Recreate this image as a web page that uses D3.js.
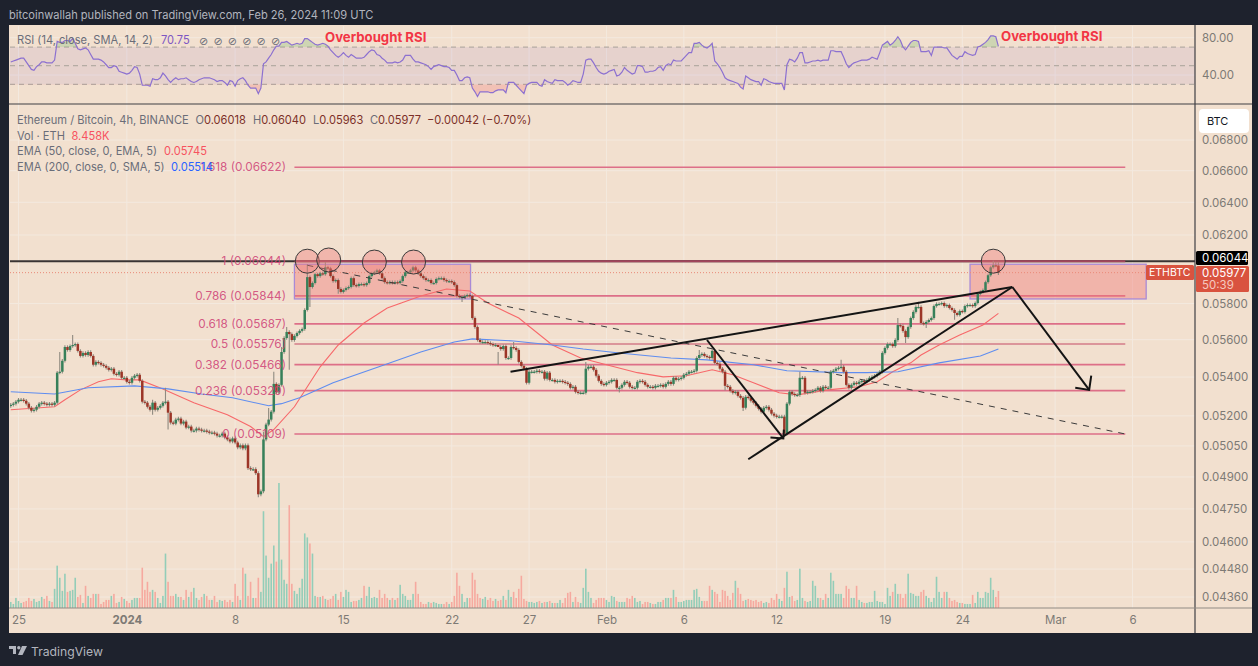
<!DOCTYPE html>
<html>
<head>
<meta charset="utf-8">
<script src="https://cdn.jsdelivr.net/npm/d3@7/dist/d3.min.js"></script>
<style>
  html, body { margin: 0; padding: 0; background: #1e222d; }
  svg { display: block; font-family: Inter, "Noto Sans", sans-serif; }
</style>
</head>
<body>
<svg id="chart" width="1258" height="666"></svg>
<script>
// closing prices, 4h bars, in 1e-5 BTC
const closes = [
  5256,5262,5272,5282,5282,5277,5262,5241,5226,5231,5246,5262,5267,5262,5256,5262,5256,5267,5423,5428,
  5486,5560,5544,5565,5571,5576,5539,5512,5528,5517,5533,5512,5465,5480,5475,5465,5459,5449,5438,5444,
  5417,5412,5428,5396,5396,5375,5370,5396,5407,5412,5380,5272,5267,5246,5231,5267,5231,5241,5251,5267,
  5272,5216,5166,5161,5181,5186,5161,5171,5141,5146,5126,5126,5136,5131,5126,5126,5121,5116,5116,5111,
  5101,5101,5111,5092,5082,5072,5087,5067,5043,5053,5038,5053,4942,4937,4937,4918,4818,4832,5082,5156,
  5181,5221,5364,5320,5359,5533,5609,5642,5630,5598,5620,5636,5648,5658,5764,5951,5894,5917,5968,5957,
  5973,5968,6008,6002,5957,5928,5934,5883,5866,5877,5888,5894,5945,5905,5900,5911,5911,5905,5917,5957,
  5973,5979,5990,5973,5945,5922,5917,5922,5917,5922,5917,5928,5957,5979,5979,5990,6008,5990,5973,5957,
  5945,5934,5934,5917,5917,5940,5945,5945,5934,5928,5928,5922,5905,5843,5837,5837,5843,5848,5843,5719,
  5669,5598,5587,5587,5587,5582,5576,5571,5571,5560,5549,5565,5501,5501,5560,5555,5544,5480,5459,5444,
  5370,5428,5428,5428,5433,5428,5428,5391,5423,5385,5385,5375,5380,5380,5375,5370,5364,5344,5349,5323,
  5318,5318,5318,5444,5454,5454,5438,5407,5380,5364,5359,5370,5375,5385,5385,5344,5344,5359,5375,5370,
  5349,5344,5344,5375,5380,5375,5359,5349,5349,5344,5354,5354,5359,5349,5364,5375,5364,5396,5385,5391,
  5396,5412,5417,5428,5428,5433,5501,5517,5523,5512,5507,5501,5539,5475,5470,5444,5428,5354,5349,5328,
  5318,5323,5302,5292,5241,5297,5292,5277,5267,5251,5236,5221,5241,5246,5231,5211,5201,5196,5196,5196,
  5111,5262,5323,5312,5307,5307,5396,5396,5318,5323,5323,5328,5333,5344,5328,5349,5344,5344,5428,5433,
  5444,5449,5454,5428,5359,5344,5359,5370,5364,5375,5380,5375,5385,5396,5401,5407,5417,5428,5528,5555,
  5576,5576,5565,5598,5680,5675,5647,5614,5669,5719,5753,5781,5781,5691,5686,5697,5708,5719,5786,5798,
  5798,5803,5786,5792,5775,5764,5747,5736,5758,5753,5786,5792,5792,5786,5803,5854,5866,5877,5922,5962,
  6008,6020,6018,5977
];

// only the wicks that stand out: [bar, high, low], same units
const bigWicks = [
  [19,5533,null],[24,5625,null],[55,5282,5206],[60,5344,null],[61,null,5131],[96,null,4804],[98,5120,null],
  [100,5240,null],[102,5428,null],[105,5560,null],[107,5669,null],[108,null,5438],[115,6026,null],[116,null,5781],
  [122,6039,null],[127,null,5855],[175,null,5809],[189,5533,5465],[195,5587,null],[223,5480,null],[236,null,5320],
  [267,5544,null],[277,null,5330],[284,null,5225],[306,5428,null],[322,5491,null],[344,5719,null],[347,null,5582],
  [352,5810,null],[355,null,5664],[366,null,5710],[381,6047,null],[382,6040,null],[383,6040,5963]
];

// volume in thousands of ETH
const volumes = [
  3,2,5,3.5,2.5,3,3.5,5,3.5,4.5,3,3.5,5.5,4.5,6,3.5,3,9.5,21,15,
  8.5,17,8,8.5,9,15,5.5,6.5,2.5,11,6,5,7,7,7,2,3,4,4,6,
  7,2.5,3,5.5,4.5,3.5,2.5,4,5,5,5,20,9,13,8,9,8,5,2.5,6,
  27,13,6,6,7,5.5,5.5,4,9,5.5,8,10,5,4,5.5,7,6,4,4,6,
  3,4,3.5,4,3,4,3,12,6,4,20,17,6,13,5,5,15,8,48,26,
  15,22,31,23,62,24,14,12,51,12,8.5,7,10,14.5,37,35,32,27,6,5.5,
  5.5,6,4.5,4,4.5,6,7,4,8,5.5,9,8,3,3.5,3.5,4,5,11,6,10.5,
  5,5.5,5,9,5,7,5,4,5,4,5,11.5,7,6,4,4,7,13,7,3,
  2,2,3,2.5,3,2.5,2,2,2,3,2,3,6,17.5,11,7,3,5,5,17.5,
  14,7,5,4.5,5.5,4,5,3.5,4.5,3.5,4,6,4,9,5.5,8,5,9.5,16,4.5,
  3.5,3,3,2.5,3,3.5,2.5,3,3,3.5,2.5,2.5,2.5,4,2.5,5,7.5,8,3,5.5,
  3,2.5,10,19.5,8,5,2.5,4,5,5,5,4,3,6,5.5,3.5,3,3,3,5,
  4.5,6,5,3,3.5,2,3,3,2.5,2,2,3,3,4,5,5,5,9,5.5,3,
  3,3.5,4,4,4,9,9.5,5.5,3.5,3.5,3.5,11,9,8,7,3,9,8.5,6,4,
  7.5,13.5,10,7,3.5,4,4.5,4,3.5,4,3,3.5,2.5,3,2.5,5,4,7,4.5,3.5,
  10,18,5.5,6,3.5,4,19.5,5,3.5,3,3.5,13.5,11,5,5,4,7,5,17.5,13.5,
  7,7,7,5,11,9.5,5,5,11,4,3,2.5,2.5,3,3,8.5,3.5,3,3,2,
  10,6,8,12,7,7,5,7,17,7.5,7,6,6,8,9,6,5,3,5,15.5,
  8,5,8,8,5,3.5,4,3,2.5,2.5,2,2,2,6.5,2.5,8,5,5,8,7.5,
  15,9,5.5,8.458
];

const rsiValues = [
  54,55,56,57,58,58,54,50,46,45,49,51,54,54,53,53,53,56,76,75,
  75,77,77,76,79,74,68,67,68,69,67,62,57,57,57,56,54,51,48,48,
  50,49,44,43,42,41,42,45,49,48,41,29,29,29,28,36,35,35,37,42,
  39,35,32,35,37,35,36,36,37,35,33,32,33,35,36,37,37,37,36,35,
  33,34,34,32,29,34,33,28,34,36,37,34,29,26,26,26,20,26,52,54,
  58,62,67,71,71,75,75,76,74,72,73,74,73,74,79,79,77,75,73,72,
  73,74,73,71,67,64,61,59,61,64,61,59,62,60,58,58,58,59,62,65,
  67,66,62,61,58,56,53,53,53,54,53,54,56,61,61,61,57,54,54,53,
  52,51,49,46,49,50,51,50,49,49,48,45,45,40,34,34,37,38,37,26,
  22,17,22,22,22,22,21,21,23,24,24,24,21,32,32,32,29,26,23,20,
  29,31,32,32,32,29,28,35,33,32,31,35,34,34,34,32,29,31,34,33,
  32,32,41,56,57,57,53,48,44,42,41,42,44,45,46,39,40,43,48,45,
  43,41,42,50,50,49,43,43,44,44,45,48,49,45,50,52,51,56,55,55,
  55,58,61,64,64,74,74,75,72,70,69,71,74,55,52,48,43,37,35,34,
  33,32,31,27,25,39,37,35,34,33,33,29,36,35,33,32,31,31,31,31,
  24,51,57,56,54,58,64,64,53,53,54,55,55,56,55,56,56,56,66,66,
  65,65,65,59,52,48,51,53,54,55,56,56,56,57,59,58,57,64,72,74,
  76,72,74,77,81,77,70,67,71,75,77,77,76,65,65,65,66,61,70,70,
  70,70,69,69,65,61,59,57,60,60,65,63,62,61,62,70,71,73,75,78,
  82,82,81,70.75
];

// EMAs read at the bends: [bar, price]
const ema50Points = [
  [0,5231],[17,5246],[21,5282],[27,5333],[34,5375],[39,5391],[45,5385],[50,5385],[59,5338],[71,5267],[84,5206],
  [93,5146],[98,5096],[102,5131],[110,5246],[115,5349],[120,5454],[127,5571],[137,5691],[146,5775],[159,5843],
  [169,5883],[178,5871],[185,5803],[197,5719],[210,5571],[221,5501],[231,5465],[243,5423],[253,5401],[262,5407],
  [272,5438],[280,5412],[288,5370],[298,5318],[305,5307],[317,5333],[329,5349],[336,5375],[342,5428],[349,5475],
  [353,5517],[360,5571],[368,5625],[377,5680],[383,5745]
];
const ema200Points = [
  [0,5323],[17,5312],[30,5344],[48,5354],[61,5338],[74,5312],[86,5292],[100,5251],[105,5262],[112,5292],[125,5370],
  [145,5465],[159,5533],[172,5587],[179,5604],[195,5593],[210,5571],[222,5549],[236,5528],[256,5501],[270,5491],
  [288,5465],[301,5433],[322,5423],[332,5423],[344,5428],[360,5475],[376,5512],[383,5549]
];

const priceTicks = [0.068,0.066,0.064,0.062,0.058,0.056,0.054,0.052,0.0505,0.049,0.0475,0.046,0.0448,0.0436];
const rsiTicks = [80,40];
const rsiBands = [70,50,30];
const timeTicks = ['2023-12-25','2024-01-01','2024-01-08','2024-01-15','2024-01-22','2024-01-27','2024-02-01','2024-02-06','2024-02-12','2024-02-19','2024-02-24','2024-03-01','2024-03-06'];
const timeLabels = ['25','2024','8','15','22','27','Feb','6','12','19','24','Mar','6'];

const fibLevels = [1.618,1,0.786,0.618,0.5,0.382,0.236,0];
const fibPrices = [0.06622,0.06044,0.05844,0.05687,0.05576,0.05466,0.05329,0.05109];
const fibBars = [110,432.2];

// drawings, in bar index and 1e-5 price
const wedgeTop = [[193.8,5428],[388.4,5894]];
const wedgeBottom = [[286,4985],[388.4,5894]];
const arrowOne = [[270,5598],[299.6,5087]];
const arrowOneHead = [[294.6,5092],[299.6,5087],[299.8,5131]];
const arrowTwo = [[388.4,5894],[418.2,5333]];
const arrowTwoHead = [[412.8,5344],[418.2,5333],[419,5407]];
const dashedTrend = [[115,6020],[432.2,5109]];
const zones = [[110,178.3,6026,5826],[372,440.3,6026,5826]];
const topCircles = [[115,6044],[123.3,6051],[141,6039],[156.2,6039],[381,6044]];

const svg = d3.select('#chart');
const left = 10, right = 1195, outerRight = 1252;
const paneTop = 26, paneSplit = 104, mainBottom = 608, axisBottom = 633;

const msHour = 3600000;
const firstBar = Date.UTC(2023, 11, 24, 12);
const barTime = i => new Date(firstBar + i * 4 * msHour);

const x = d3.scaleUtc().domain([new Date(Date.UTC(2023,11,25)), new Date(Date.UTC(2024,2,6))]).range([18.5,1132.5]);
const xBar = i => x(barTime(i));
const y = d3.scaleLog().domain([0.068,0.0436]).range([140,597]);
const yPrice = v => y(v / 100000);
const yRsi = d3.scaleLinear().domain([80,40]).range([37.7,75]);
const yVol = d3.scaleLinear().domain([0,62]).range([mainBottom,mainBottom-125]);

// background and frame
svg.append('rect').attr('x',9).attr('y',25).attr('width',outerRight-9).attr('height',axisBottom-25).attr('fill','#f2e0cf');

const defs = svg.append('defs');
defs.append('clipPath').attr('id','mainClip').append('rect').attr('x',left).attr('y',paneSplit).attr('width',right-left).attr('height',mainBottom-paneSplit);
defs.append('clipPath').attr('id','above70').append('rect').attr('x',left).attr('y',paneTop).attr('width',right-left).attr('height',yRsi(70)-paneTop);
defs.append('clipPath').attr('id','below30').append('rect').attr('x',left).attr('y',yRsi(30)).attr('width',right-left).attr('height',paneSplit-yRsi(30));

// grid
const timeDates = timeTicks.map(d => new Date(d + 'T00:00:00Z'));
const grid = svg.append('g').attr('stroke','#f3e9df').attr('stroke-width',1);
grid.selectAll('line.v').data(timeDates).join('line').attr('class','v')
  .attr('x1',d => x(d)).attr('x2',d => x(d)).attr('y1',paneTop).attr('y2',mainBottom);
grid.selectAll('line.h').data(priceTicks).join('line').attr('class','h')
  .attr('x1',left).attr('x2',right).attr('y1',d => y(d)).attr('y2',d => y(d));
grid.selectAll('line.r').data(rsiTicks).join('line').attr('class','r')
  .attr('x1',left).attr('x2',right).attr('y1',d => yRsi(d)).attr('y2',d => yRsi(d));

// RSI pane
svg.append('rect').attr('x',left).attr('width',right-left).attr('y',yRsi(70)).attr('height',yRsi(30)-yRsi(70)).attr('fill','rgba(126,87,194,0.1)');
svg.append('g').selectAll('line').data(rsiBands).join('line')
  .attr('x1',left).attr('x2',right).attr('y1',d => yRsi(d)).attr('y2',d => yRsi(d))
  .attr('stroke','#b5aca4').attr('stroke-width',1.2).attr('stroke-dasharray','5,4');
const rsiIdx = d3.range(rsiValues.length);
const rsiLine = d3.line().x(i => xBar(i)).y(i => yRsi(rsiValues[i]));
svg.append('path').attr('clip-path','url(#above70)').attr('fill','rgba(76,175,80,0.22)')
  .attr('d', d3.area().x(i => xBar(i)).y0(yRsi(70)).y1(i => yRsi(rsiValues[i]))(rsiIdx));
svg.append('path').attr('clip-path','url(#below30)').attr('fill','rgba(242,54,69,0.18)')
  .attr('d', d3.area().x(i => xBar(i)).y0(yRsi(30)).y1(i => yRsi(rsiValues[i]))(rsiIdx));
svg.append('path').attr('fill','none').attr('stroke','#8c70d0').attr('stroke-width',1.2).attr('d',rsiLine(rsiIdx));

// volume
const bars = closes.map((c,i) => {
  const o = i === 0 ? 5250 : closes[i-1];
  return { i, o, c, hi: Math.max(o,c) + 9, lo: Math.min(o,c) - 9, v: volumes[i] };
});
bigWicks.forEach(([i,h,l]) => { if (h) bars[i].hi = h; if (l) bars[i].lo = l; });

const main = svg.append('g').attr('clip-path','url(#mainClip)');
main.append('g').selectAll('rect').data(bars).join('rect')
  .attr('x',d => xBar(d.i)-0.8).attr('width',1.6)
  .attr('y',d => yVol(d.v)).attr('height',d => mainBottom-yVol(d.v))
  .attr('fill',d => d.c >= d.o ? '#93cdb8' : '#f6a99f');

// fib levels and zones go under the candles
main.append('g').selectAll('line').data(fibPrices).join('line')
  .attr('x1',xBar(fibBars[0])).attr('x2',xBar(fibBars[1]))
  .attr('y1',d => y(d)).attr('y2',d => y(d))
  .attr('stroke',d => d === 0.05576 ? '#c44a66' : '#dd6f88')
  .attr('stroke-width',d => d === 0.05576 ? 1.1 : 1.7);
main.append('line').attr('x1',left).attr('x2',right).attr('y1',y(0.06044)).attr('y2',y(0.06044))
  .attr('stroke','#3a3433').attr('stroke-width',2);
main.append('line').attr('x1',xBar(fibBars[0])).attr('x2',xBar(fibBars[1])).attr('y1',y(0.06044)).attr('y2',y(0.06044))
  .attr('stroke','#a2465c').attr('stroke-width',2);
main.append('g').selectAll('rect').data(zones).join('rect')
  .attr('x',d => xBar(d[0])).attr('width',d => xBar(d[1])-xBar(d[0]))
  .attr('y',d => yPrice(d[2])).attr('height',d => yPrice(d[3])-yPrice(d[2]))
  .attr('fill','rgba(240,120,120,0.42)').attr('stroke','#a98ad6').attr('stroke-width',1.3);
main.append('line').attr('x1',left).attr('x2',right).attr('y1',y(0.05977)).attr('y2',y(0.05977))
  .attr('stroke','#ea8a78').attr('stroke-width',1).attr('stroke-dasharray','1,2');

// EMAs
const emaLine = d3.line().x(d => xBar(d[0])).y(d => yPrice(d[1]));
main.append('path').attr('fill','none').attr('stroke','#f7686a').attr('stroke-width',1.1).attr('d',emaLine(ema50Points));
main.append('path').attr('fill','none').attr('stroke','#5f8df0').attr('stroke-width',1.1).attr('d',emaLine(ema200Points));

// candles
const candle = main.append('g').selectAll('g').data(bars).join('g');
candle.append('line')
  .attr('x1',d => xBar(d.i)).attr('x2',d => xBar(d.i))
  .attr('y1',d => yPrice(d.hi)).attr('y2',d => yPrice(d.lo))
  .attr('stroke','#8f8a80').attr('stroke-width',1.1);
candle.append('rect')
  .attr('x',d => xBar(d.i)-1.25).attr('width',2.5)
  .attr('y',d => yPrice(Math.max(d.o,d.c)))
  .attr('height',d => Math.max(1.2, Math.abs(yPrice(d.o)-yPrice(d.c))))
  .attr('fill',d => d.c >= d.o ? '#37805a' : '#9c3527');

// hand-drawn trend lines
const drawn = d3.line().x(d => xBar(d[0])).y(d => yPrice(d[1]));
[wedgeTop,wedgeBottom,arrowOne,arrowOneHead,arrowTwo,arrowTwoHead].forEach(p => {
  main.append('path').attr('d',drawn(p)).attr('fill','none').attr('stroke','#141414').attr('stroke-width',2);
});
main.append('path').attr('d',drawn(dashedTrend)).attr('fill','none').attr('stroke','#3b3b3b')
  .attr('stroke-width',1).attr('stroke-dasharray','6,6');
main.append('g').selectAll('circle').data(topCircles).join('circle')
  .attr('cx',d => xBar(d[0])).attr('cy',d => yPrice(d[1])).attr('r',12)
  .attr('fill','rgba(240,120,120,0.4)').attr('stroke','#3a3a3a').attr('stroke-width',1);

// fib labels
main.append('g').selectAll('text').data(fibLevels).join('text')
  .attr('x',286).attr('y',(d,i) => y(fibPrices[i])+4)
  .attr('text-anchor','end').attr('font-size',11.8).attr('fill','#d0487a').attr('fill-opacity',0.9)
  .text((d,i) => d + ' (' + fibPrices[i].toFixed(5) + ')');

// pane borders
const borders = svg.append('g').attr('stroke','#3f3f44').attr('stroke-width',1.2);
borders.append('line').attr('x1',9).attr('x2',outerRight).attr('y1',paneSplit).attr('y2',paneSplit);
borders.append('line').attr('x1',right).attr('x2',right).attr('y1',25).attr('y2',axisBottom);
svg.append('line').attr('x1',9).attr('x2',outerRight).attr('y1',mainBottom).attr('y2',mainBottom).attr('stroke','#8f8a84').attr('stroke-width',1.2);

// axes
const priceAxis = d3.axisRight(y).tickValues(priceTicks).tickSize(0).tickPadding(7).tickFormat(d3.format('.5f'));
const gPrice = svg.append('g').attr('transform',`translate(${right},0)`).call(priceAxis);
const rsiAxis = d3.axisRight(yRsi).tickValues(rsiTicks).tickSize(0).tickPadding(7).tickFormat(d3.format('.2f'));
const gRsi = svg.append('g').attr('transform',`translate(${right},0)`).call(rsiAxis);
const timeAxis = d3.axisBottom(x).tickValues(timeDates).tickSize(0).tickPadding(8).tickFormat((d,i) => timeLabels[i]);
const gTime = svg.append('g').attr('transform',`translate(0,${mainBottom})`).call(timeAxis);
[gPrice,gRsi,gTime].forEach(g => {
  g.select('.domain').remove();
  g.selectAll('text').attr('font-family','Inter, sans-serif').attr('font-size',11.5).attr('fill','#7d7a75');
});
gTime.selectAll('text').attr('font-weight',(d,i) => timeLabels[i] === '2024' ? 700 : 400);

function txt(px, py, str, color, size, weight) {
  return svg.append('text').attr('x',px).attr('y',py).attr('fill',color)
    .attr('font-size',size || 11.1).attr('font-weight',weight || 400).text(str);
}

// price tags on the axis
svg.append('rect').attr('x',1196).attr('y',251).attr('width',52).attr('height',14).attr('rx',1.5).attr('fill','#000');
txt(1202,262,'0.06044','#fff',11.5);
svg.append('rect').attr('x',1196).attr('y',266).attr('width',53).attr('height',26).attr('rx',1.5).attr('fill','#d9533f');
txt(1202,277,'0.05977','#fff',11.5);
txt(1202,288.5,'50:39','#f5c8bf',11.5);
svg.append('rect').attr('x',1146).attr('y',265).attr('width',48).attr('height',15).attr('rx',1.5).attr('fill','#d9533f');
txt(1149,276,'ETHBTC','#fff',10.5);
svg.append('rect').attr('x',1199).attr('y',109).attr('width',50).attr('height',24).attr('rx',4).attr('fill','#fff');
txt(1207,125,'BTC','#131722',11);

// header and legends
txt(9,19,'bitcoinwallah published on TradingView.com, Feb 26, 2024 11:09 UTC','#b2b5be');
txt(17,44,'RSI (14, close, SMA, 14, 2)','#6a6d78');
txt(161,44,'70.75','#7e57c2');
svg.append('g').selectAll('text').data(d3.range(6)).join('text')
  .attr('x',i => 199 + i * 14.4).attr('y',45).attr('font-size',11).attr('fill','#6a6d78')
  .attr('font-family','"DejaVu Sans"').text('\u2298');
txt(325,42,'Overbought RSI','#f23645',13.2,700);
txt(1001,40.5,'Overbought RSI','#f23645',13.2,700);

txt(17,124,'Ethereum / Bitcoin, 4h, BINANCE','#6a6d78');
const ohlc = [[195.5,'O','0.06018'],[253,'H','0.06040'],[313,'L','0.05963'],[370,'C','0.05977']];
ohlc.forEach(([px,k,v]) => {
  const t = txt(px,124,k,'#6a6d78');
  t.append('tspan').attr('fill','#7c2f28').text(v);
});
txt(427,124,'\u22120.00042 (\u22120.70%)','#7c2f28');
txt(17,140,'Vol \u00b7 ETH','#6a6d78');
txt(71.5,140,'8.458K','#f7525f');
txt(17,155,'EMA (50, close, 0, EMA, 5)','#6a6d78');
txt(164,155,'0.05745','#f7525f');
txt(17,171,'EMA (200, close, 0, SMA, 5)','#6a6d78');
txt(171,171,'0.05514','#2962ff');

// footer logo
const logo = svg.append('g').attr('fill','#b2b5be').attr('transform','translate(9,646)');
logo.append('path').attr('d','M0 0H7V8H4V3H0Z');
logo.append('circle').attr('cx',9.8).attr('cy',1.8).attr('r',1.7);
logo.append('path').attr('d','M13 0H18L13.5 9H9Z');
txt(31,655.5,'TradingView','#b2b5be',12.2);
</script>
</body>
</html>
